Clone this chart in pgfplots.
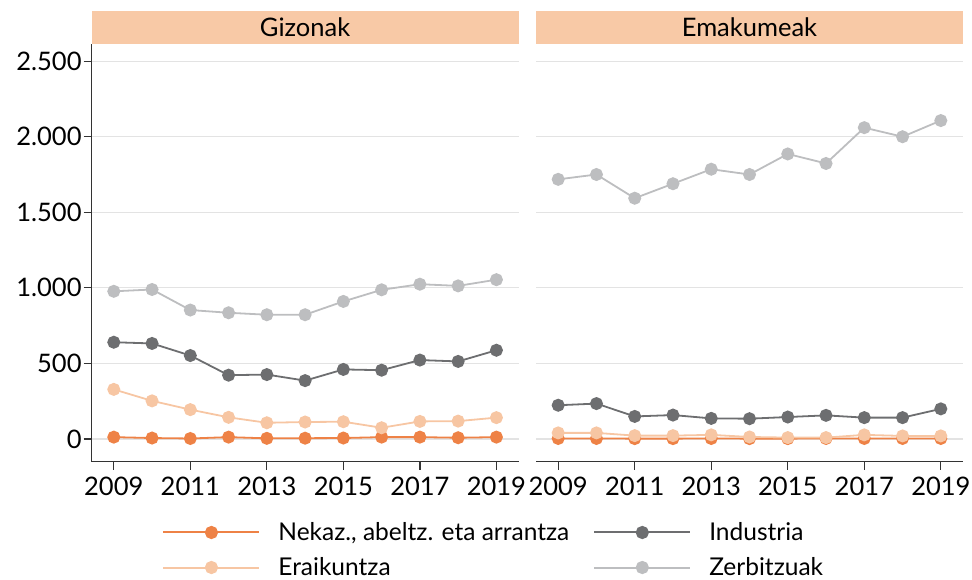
\documentclass[border=0pt]{standalone}
\usepackage{pgfplots}
\usepackage{pgfplotstable}
\usepackage{fontspec}
\pgfplotsset{compat=1.18}
\setmainfont{Lato}

\definecolor{nek}{HTML}{EE8246}
\definecolor{era}{HTML}{F7C6A3}
\definecolor{ind}{HTML}{6D6E70}
\definecolor{zer}{HTML}{BDBEC0}
\definecolor{hdr}{HTML}{F8C9A6}
\definecolor{grd}{HTML}{E3E3E3}

\pgfplotstableread{
year nek ind era zer
2009 12 640 328 977
2010 6 632 252 989
2011 3 552 194 853
2012 12 422 143 835
2013 4 426 107 822
2014 5 386 112 822
2015 6 460 114 910
2016 12 455 74 987
2017 12 522 116 1024
2018 8 513 118 1013
2019 12 587 141 1054
}\gizonak

\pgfplotstableread{
year nek ind era zer
2009 3 223 40 1718
2010 3 234 40 1750
2011 2 149 22 1593
2012 2 158 22 1689
2013 3 136 27 1785
2014 2 134 13 1750
2015 2 145 9 1886
2016 3 156 9 1823
2017 3 141 27 2060
2018 3 141 20 2000
2019 3 199 20 2107
}\emakumeak

\pgfplotsset{
  panel/.style={
    scale only axis,
    width=213.5bp, height=208.9bp,
    xmin=2008.42, xmax=2019.58,
    ymin=-150, ymax=2615,
    xtick={2009,2011,...,2019},
    ytick={0,500,...,2500},
    ymajorgrids,
    major grid style={grd, line width=0.6bp},
    axis x line*=bottom, axis y line*=left,
    axis line style={-, black!80, line width=0.6bp},
    tick align=outside,
    major tick length=4bp,
    tick style={black!80, line width=0.6bp},
    font=\fontsize{12.8}{15}\selectfont,
    xticklabel style={/pgf/number format/1000 sep=},
    yticklabel style={xshift=2.5bp},
    /pgf/number format/1000 sep={.},
    /pgf/number format/assume math mode=true,
    every axis plot/.append style={line width=0.9bp, mark=*, mark size=2.8bp},
  },
  nekst/.style={nek, mark options={fill=nek, draw=nek}},
  indst/.style={ind, mark options={fill=ind, draw=ind}},
  erast/.style={era, mark options={fill=era, draw=era}},
  zerst/.style={zer, mark options={fill=zer, draw=zer}},
}

\begin{document}
\begin{tikzpicture}
\path[use as bounding box] (0,0) rectangle (486bp,-290bp);

\begin{axis}[panel, name=L, at={(45.8bp,-230.8bp)}, anchor=south west,
  legend columns=2,
  legend style={draw=none, fill=none, at={(0.165,-0.134)}, anchor=north west,
    inner sep=0pt, font=\fontsize{12.3}{15}\selectfont,
    /tikz/every even column/.append style={column sep=10bp},
    row sep=3bp},
  legend cell align=left,
  legend image code/.code={\draw[line width=1bp, mark repeat=2, mark phase=2] plot coordinates {(0bp,0bp) (24bp,0bp) (48bp,0bp)};
    \path[draw=none, fill=none] (48bp,0bp) -- (55.5bp,0bp);},
]
\addplot[nekst] table[x=year, y=nek] {\gizonak};
\addlegendentry{Nekaz., abeltz. eta arrantza}
\addplot[indst] table[x=year, y=ind] {\gizonak};
\addlegendentry{Industria}
\addplot[erast] table[x=year, y=era] {\gizonak};
\addlegendentry{Eraikuntza}
\addplot[zerst] table[x=year, y=zer] {\gizonak};
\addlegendentry{Zerbitzuak}
\end{axis}

\begin{axis}[panel, name=R, at={(268bp,-230.8bp)}, anchor=south west,
  y axis line style={draw=none}, ytick style={draw=none}, yticklabels={},
]
\addplot[nekst] table[x=year, y=nek] {\emakumeak};
\addplot[indst] table[x=year, y=ind] {\emakumeak};
\addplot[erast] table[x=year, y=era] {\emakumeak};
\addplot[zerst] table[x=year, y=zer] {\emakumeak};
\end{axis}

\foreach \ax/\ttl in {L/Gizonak, R/Emakumeak}{
  \fill[hdr] (\ax.north west) rectangle ([yshift=16.5bp]\ax.north east);
  \node[font=\fontsize{12.8}{15}\selectfont, inner sep=0pt] at ([yshift=8.25bp]\ax.north) {\ttl};
}
\end{tikzpicture}
\end{document}
